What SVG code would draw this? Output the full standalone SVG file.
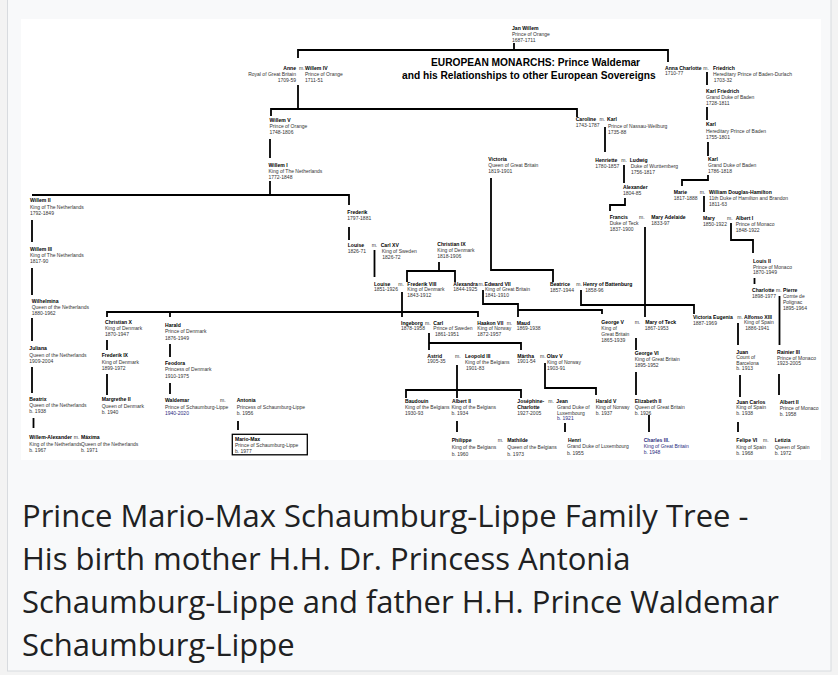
<svg xmlns="http://www.w3.org/2000/svg" width="838" height="675" viewBox="0 0 838 675">
<style>
text{font-family:"Liberation Sans",Arial,sans-serif}
.n{font-weight:bold;font-size:5.1px;fill:#000}
.d{font-size:5px;fill:#333}
.e{text-anchor:end}
.v{fill:#2b2b7e}
.t{font-weight:bold;font-size:10.2px;fill:#000}
.cap{font-family:"Open Sans","Noto Sans",sans-serif;font-size:31px;fill:#202122}
#connectors path{fill:none;stroke:#000;stroke-width:1.8}
</style>
<rect width="838" height="675" fill="#f3f3f3"/>
<rect x="7.5" y="-1" width="823.5" height="672" fill="#f8f9fa" stroke="#d8dbdf"/>
<rect x="21" y="19" width="800" height="441" fill="#fff"/>
<g id="connectors">
<path d="M514,43V50M298,58V50H668V62"/>
<path d="M298,85V109M271,116V109H577V117"/>
<path d="M270,139V158"/>
<path d="M270,181V195M32,195H349V205"/>
<path d="M32,220V242M32,268V295M32,318V341M32,367V393M33.5,418V428"/>
<path d="M349,227V240M374.5,250V277"/>
<path d="M439,262V271M407,282V271H455V282"/>
<path d="M402,292V317M107,317V312H478V317M170,312V317"/>
<path d="M491,178V270H553V282"/>
<path d="M483,290V304H518V317M518,310H602V314"/>
<path d="M581,290V305H694V314"/>
<path d="M605,127V152M624,165V183M625,198V205H610V211M645,227V317"/>
<path d="M707,72V85M707,107V120M708,142V156M708,175V180H682V186M704,196V212M731,223V240H753V253M754.5,278V284M779.5,296V345M779,374V395"/>
<path d="M738,323V345M740,375V397M738,422V432"/>
<path d="M636,338V350M636,372V395M649,415V432"/>
<path d="M429,333V350M429,343H521V350"/>
<path d="M457,365V398M406,398V390H521V398"/>
<path d="M545,363V388H596V395"/>
<path d="M457,421V432M565,423V432"/>
<path d="M107,340V350M107,374V395M170,344V357M170,383V394M238,421V430"/>
</g>
<g id="title"><text class="t" x="431" y="65.6">EUROPEAN MONARCHS: Prince Waldemar</text><text class="t v" x="402" y="78.6">and his Relationships to other European Sovereigns</text></g>
<g id="jan-willem"><text class="n" x="512" y="29.5">Jan Willem</text><text class="d" x="512" y="35.8">Prince of Orange</text><text class="d" x="512" y="41.8">1687-1711</text></g>
<g id="anne-willem-iv"><text class="n e" x="296" y="69.5">Anne</text><text class="d e" x="296" y="75.8">Royal of Great Britain</text><text class="d e" x="296" y="81.8">1709-59</text><text class="d" x="299" y="69.5">m.</text><text class="n" x="305" y="69.5">Willem IV</text><text class="d" x="305" y="75.8">Prince of Orange</text><text class="d" x="305" y="81.8">1711-51</text></g>
<g id="anna-charlotte-friedrich"><text class="n" x="665" y="69.5">Anna Charlotte</text><text class="d" x="665" y="75.3">1710-77</text><text class="d" x="703.3" y="69.5">m.</text><text class="n" x="713" y="69.5">Friedrich</text><text class="d" x="713" y="76">Hereditary Prince of Baden-Durlach</text><text class="d" x="713.7" y="82">1703-32</text></g>
<g id="karl-friedrich"><text class="n" x="706" y="93">Karl Friedrich</text><text class="d" x="706" y="98.8">Grand Duke of Baden</text><text class="d" x="706" y="104.7">1728-1811</text></g>
<g id="willem-v"><text class="n" x="269.5" y="122">Willem V</text><text class="d" x="269.5" y="128.2">Prince of Orange</text><text class="d" x="269.5" y="134.2">1748-1806</text></g>
<g id="caroline-karl"><text class="n" x="575.7" y="121.3">Caroline</text><text class="d" x="575.7" y="127">1743-1787</text><text class="d" x="599.5" y="121.3">m.</text><text class="n" x="607" y="121.3">Karl</text><text class="d" x="608" y="128.3">Prince of Nassau-Weilburg</text><text class="d" x="608" y="134.2">1735-88</text></g>
<g id="karl-hereditary"><text class="n" x="706" y="126.3">Karl</text><text class="d" x="706" y="132.8">Hereditary Prince of Baden</text><text class="d" x="706" y="139">1755-1801</text></g>
<g id="willem-i"><text class="n" x="268.5" y="167">Willem I</text><text class="d" x="268.5" y="173">King of The Netherlands</text><text class="d" x="268.5" y="178.7">1772-1848</text></g>
<g id="victoria"><text class="n" x="488.3" y="161.3">Victoria</text><text class="d" x="488.3" y="167">Queen of Great Britain</text><text class="d" x="488.3" y="173">1819-1901</text></g>
<g id="henriette-ludwig"><text class="n" x="595.3" y="162">Henriette</text><text class="d" x="595.3" y="168">1780-1857</text><text class="d" x="621.3" y="162">m.</text><text class="n" x="629.7" y="162">Ludwig</text><text class="d" x="630.7" y="168">Duke of Wurttemberg</text><text class="d" x="631" y="173.7">1756-1817</text></g>
<g id="karl-grand-duke"><text class="n" x="708" y="161.3">Karl</text><text class="d" x="708" y="167">Grand Duke of Baden</text><text class="d" x="708" y="173">1786-1818</text></g>
<g id="alexander"><text class="n" x="623" y="189.3">Alexander</text><text class="d" x="623" y="195.3">1804-85</text></g>
<g id="marie-william"><text class="n" x="673.7" y="193.7">Marie</text><text class="d" x="673.7" y="199.7">1817-1888</text><text class="d" x="699.7" y="193.7">m.</text><text class="n" x="709" y="194">William Douglas-Hamilton</text><text class="d" x="709" y="200">11th Duke of Hamilton and Brandon</text><text class="d" x="709" y="206">1811-63</text></g>
<g id="willem-ii"><text class="n" x="30" y="202">Willem II</text><text class="d" x="30" y="208.6">King of The Netherlands</text><text class="d" x="30" y="214.6">1792-1849</text></g>
<g id="frederik"><text class="n" x="347.3" y="214.3">Frederik</text><text class="d" x="347.3" y="220.3">1797-1881</text></g>
<g id="francis-mary-adelaide"><text class="n" x="609.7" y="219.3">Francis</text><text class="d" x="609.7" y="225.3">Duke of Teck</text><text class="d" x="609.7" y="231.3">1837-1900</text><text class="d" x="639" y="219.3">m.</text><text class="n" x="651.3" y="219.3">Mary Adelaide</text><text class="d" x="651.3" y="225.3">1833-97</text></g>
<g id="mary-albert-i"><text class="n" x="703" y="220.3">Mary</text><text class="d" x="703" y="226">1850-1922</text><text class="d" x="727" y="220.3">m.</text><text class="n" x="735.7" y="220.3">Albert I</text><text class="d" x="735.7" y="226">Prince of Monaco</text><text class="d" x="735.7" y="232">1848-1922</text></g>
<g id="louise-carl-xv"><text class="n" x="347.7" y="247">Louise</text><text class="d" x="347.7" y="252.7">1826-71</text><text class="d" x="371.7" y="247">m.</text><text class="n" x="380.7" y="247">Carl XV</text><text class="d" x="381.7" y="253">King of Sweden</text><text class="d" x="382.3" y="258.7">1826-72</text></g>
<g id="christian-ix"><text class="n" x="437.3" y="246.3">Christian IX</text><text class="d" x="437.3" y="252">King of Denmark</text><text class="d" x="437.3" y="257.7">1818-1906</text></g>
<g id="willem-iii"><text class="n" x="30" y="251">Willem III</text><text class="d" x="30" y="257">King of The Netherlands</text><text class="d" x="30" y="262.7">1817-90</text></g>
<g id="louis-ii"><text class="n" x="753" y="262.7">Louis II</text><text class="d" x="753" y="268.7">Prince of Monaco</text><text class="d" x="753" y="274.3">1870-1949</text></g>
<g id="louise-frederik-viii"><text class="n" x="374" y="285.5">Louise</text><text class="d" x="374" y="291">1851-1926</text><text class="d" x="398.3" y="285.5">m.</text><text class="n" x="407.3" y="285.5">Frederik VIII</text><text class="d" x="407.3" y="291">King of Denmark</text><text class="d" x="407.3" y="296.5">1843-1912</text></g>
<g id="alexandra-edward-vii"><text class="n" x="453.3" y="285.5">Alexandra</text><text class="d" x="453.3" y="291">1844-1925</text><text class="d" x="478.6" y="285.5">m.</text><text class="n" x="484.6" y="285.5">Edward VII</text><text class="d" x="485" y="291">King of Great Britain</text><text class="d" x="485" y="296.5">1841-1910</text></g>
<g id="beatrice-henry"><text class="n" x="550" y="286.3">Beatrice</text><text class="d" x="550" y="292">1857-1944</text><text class="d" x="576.3" y="286.3">m.</text><text class="n" x="583" y="286.3">Henry of Battenburg</text><text class="d" x="585.3" y="292">1858-96</text></g>
<g id="charlotte-pierre"><text class="n" x="752" y="292">Charlotte</text><text class="d" x="752" y="298">1898-1977</text><text class="d" x="776" y="292">m.</text><text class="n" x="783" y="292">Pierre</text><text class="d" x="783" y="298">Comte de</text><text class="d" x="783" y="303.7">Polignac</text><text class="d" x="783" y="309.7">1895-1964</text></g>
<g id="wilhelmina"><text class="n" x="31.7" y="302.7">Wilhelmina</text><text class="d" x="31.7" y="308.7">Queen of the Netherlands</text><text class="d" x="31.7" y="314.7">1880-1962</text></g>
<g id="victoria-eugenia-alfonso"><text class="n" x="693" y="318.7">Victoria Eugenia</text><text class="d" x="693" y="324.7">1887-1969</text><text class="d" x="737.3" y="318.7">m.</text><text class="n" x="744" y="318.7">Alfonso XIII</text><text class="d" x="744" y="324.3">King of Spain</text><text class="d" x="745.3" y="330.3">1886-1941</text></g>
<g id="christian-x"><text class="n" x="105" y="324.3">Christian X</text><text class="d" x="105" y="330.3">King of Denmark</text><text class="d" x="105" y="336">1870-1947</text></g>
<g id="harald"><text class="n" x="165" y="327">Harald</text><text class="d" x="165" y="333.3">Prince of Denmark</text><text class="d" x="165" y="339.7">1876-1949</text></g>
<g id="ingeborg-carl"><text class="n" x="401" y="324.7">Ingeborg</text><text class="d" x="401" y="330.3">1878-1958</text><text class="d" x="425" y="324.7">m.</text><text class="n" x="433.3" y="324.7">Carl</text><text class="d" x="433.3" y="330.3">Prince of Sweden</text><text class="d" x="435" y="336">1861-1951</text></g>
<g id="haakon-maud"><text class="n" x="477.3" y="324.7">Haakon VII</text><text class="d" x="477.3" y="330.3">King of Norway</text><text class="d" x="477.3" y="336.3">1872-1957</text><text class="d" x="506.7" y="324.7">m.</text><text class="n" x="516.7" y="324.7">Maud</text><text class="d" x="516.7" y="330.3">1869-1938</text></g>
<g id="george-v-mary"><text class="n" x="601.3" y="324.3">George V</text><text class="d" x="601.3" y="330.3">King of</text><text class="d" x="601.3" y="336">Great Britain</text><text class="d" x="601.3" y="342">1865-1939</text><text class="d" x="634.7" y="324.3">m.</text><text class="n" x="645.3" y="324.3">Mary of Teck</text><text class="d" x="644.7" y="330.3">1867-1953</text></g>
<g id="juliana"><text class="n" x="29.3" y="350.3">Juliana</text><text class="d" x="29.3" y="357">Queen of the Netherlands</text><text class="d" x="29.3" y="363">1909-2004</text></g>
<g id="frederik-ix"><text class="n" x="101.7" y="357">Frederik IX</text><text class="d" x="101.7" y="363.7">King of Denmark</text><text class="d" x="101.7" y="370.3">1899-1972</text></g>
<g id="feodora"><text class="n" x="165" y="365.3">Feodora</text><text class="d" x="165" y="371.3">Princess of Denmark</text><text class="d" x="165" y="377.7">1910-1975</text></g>
<g id="astrid-leopold"><text class="n" x="427.3" y="357.5">Astrid</text><text class="d" x="427.3" y="363.3">1905-35</text><text class="d" x="455" y="357.5">m.</text><text class="n" x="465" y="357.5">Leopold III</text><text class="d" x="465" y="363.5">King of the Belgians</text><text class="d" x="466" y="369.5">1901-83</text></g>
<g id="martha-olav"><text class="n" x="517.3" y="357.5">Märtha</text><text class="d" x="517.3" y="363.3">1901-54</text><text class="d" x="540" y="357.5">m.</text><text class="n" x="546.7" y="357.5">Olav V</text><text class="d" x="547" y="363.5">King of Norway</text><text class="d" x="547" y="369.5">1903-91</text></g>
<g id="george-vi"><text class="n" x="634.7" y="355">George VI</text><text class="d" x="634.7" y="361">King of Great Britain</text><text class="d" x="634.7" y="367">1895-1952</text></g>
<g id="juan"><text class="n" x="736.3" y="353.5">Juan</text><text class="d" x="736.3" y="359.2">Count of</text><text class="d" x="736.3" y="364.8">Barcelona</text><text class="d" x="736.3" y="370.3">b. 1913</text></g>
<g id="rainier-iii"><text class="n" x="777" y="353.7">Rainier III</text><text class="d" x="777" y="359.7">Prince of Monaco</text><text class="d" x="777" y="365.3">1923-2005</text></g>
<g id="beatrix"><text class="n" x="29.3" y="401.3">Beatrix</text><text class="d" x="29.3" y="407.3">Queen of the Netherlands</text><text class="d" x="29.3" y="413">b. 1938</text></g>
<g id="margrethe-ii"><text class="n" x="101.7" y="401.3">Margrethe II</text><text class="d" x="101.7" y="407.7">Queen of Denmark</text><text class="d" x="101.7" y="413.7">b. 1940</text></g>
<g id="waldemar-antonia"><text class="n" x="165" y="402.3">Waldemar</text><text class="d" x="165" y="408.7">Prince of Schaumburg-Lippe</text><text class="d v" x="165" y="414.7">1940-2020</text><text class="d" x="220" y="402.3">m.</text><text class="n" x="236.7" y="402.3">Antonia</text><text class="d" x="236.7" y="408.7">Princess of Schaumburg-Lippe</text><text class="d" x="236.7" y="414.7">b. 1956</text></g>
<g id="baudouin"><text class="n" x="405" y="403">Baudouin</text><text class="d" x="405" y="409">King of the Belgians</text><text class="d" x="405" y="414.7">1930-93</text></g>
<g id="albert-ii-belgium"><text class="n" x="452" y="403">Albert II</text><text class="d" x="451.5" y="409">King of the Belgians</text><text class="d" x="451.5" y="414.7">b. 1934</text></g>
<g id="josephine-charlotte-jean"><text class="n" x="517.3" y="403">Joséphine-</text><text class="n" x="517.3" y="409">Charlotte</text><text class="d" x="517.3" y="415">1927-2005</text><text class="d" x="548.3" y="403">m.</text><text class="n" x="556.3" y="403">Jean</text><text class="d" x="557" y="409">Grand Duke of</text><text class="d" x="557" y="414.7">Luxembourg</text><text class="d v" x="557" y="420.3">b. 1921</text></g>
<g id="harald-v"><text class="n" x="595.7" y="403">Harald V</text><text class="d" x="595.7" y="409">King of Norway</text><text class="d" x="595.7" y="414.7">b. 1937</text></g>
<g id="elizabeth-ii"><text class="n" x="634.7" y="402.7">Elizabeth II</text><text class="d" x="634.7" y="408.7">Queen of Great Britain</text><text class="d" x="634.7" y="414.7">b. 1926</text></g>
<g id="juan-carlos"><text class="n" x="736.3" y="403.7">Juan Carlos</text><text class="d" x="736.3" y="409.3">King of Spain</text><text class="d" x="736.3" y="415.3">b. 1938</text></g>
<g id="albert-ii-monaco"><text class="n" x="779.7" y="403.7">Albert II</text><text class="d" x="779.7" y="410.3">Prince of Monaco</text><text class="d" x="779.7" y="416.3">b. 1958</text></g>
<g id="willem-alexander-maxima"><text class="n" x="29.3" y="439.3">Willem-Alexander</text><text class="d" x="29.3" y="445.7">King of the Netherlands</text><text class="d" x="29.3" y="452">b. 1967</text><text class="d" x="73.8" y="439.3">m.</text><text class="n" x="81" y="439.3">Máxima</text><text class="d" x="81" y="445.7">Queen of the Netherlands</text><text class="d" x="81" y="452">b. 1971</text></g>
<g id="mario-max"><rect x="232.3" y="434.3" width="75" height="20.5" fill="none" stroke="#000" stroke-width="1.3"/><text class="n" x="235" y="441.3">Mario-Max</text><text class="d" x="235" y="447">Prince of Schaumburg-Lippe</text><text class="d" x="235" y="453">b. 1977</text></g>
<g id="philippe-mathilde"><text class="n" x="451.7" y="442">Philippe</text><text class="d" x="451.7" y="448.7">King of the Belgians</text><text class="d" x="451.7" y="456">b. 1960</text><text class="d" x="497.7" y="442">m.</text><text class="n" x="507.3" y="442">Mathilde</text><text class="d" x="507.3" y="448.7">Queen of the Belgians</text><text class="d" x="507.3" y="456">b. 1973</text></g>
<g id="henri"><text class="n" x="568" y="442">Henri</text><text class="d" x="567" y="448.3">Grand Duke of Luxembourg</text><text class="d" x="567" y="455.3">b. 1955</text></g>
<g id="charles-iii"><text class="n v" x="643.7" y="442">Charles III.</text><text class="d v" x="643.7" y="448">King of Great Britain</text><text class="d v" x="643.7" y="453.7">b. 1948</text></g>
<g id="felipe-letizia"><text class="n" x="736.3" y="442">Felipe VI</text><text class="d" x="736.3" y="448.7">King of Spain</text><text class="d" x="736.3" y="455.3">b. 1968</text><text class="d" x="763" y="442">m.</text><text class="n" x="774.7" y="442">Letizia</text><text class="d" x="774.7" y="448.7">Queen of Spain</text><text class="d" x="774.7" y="455.3">b. 1972</text></g>
<g id="caption"><text class="cap" x="22" y="527">Prince Mario-Max Schaumburg-Lippe Family Tree -</text><text class="cap" x="22" y="570">His birth mother H.H. Dr. Princess Antonia</text><text class="cap" x="22" y="613">Schaumburg-Lippe and father H.H. Prince Waldemar</text><text class="cap" x="22" y="656">Schaumburg-Lippe</text></g>
</svg>
